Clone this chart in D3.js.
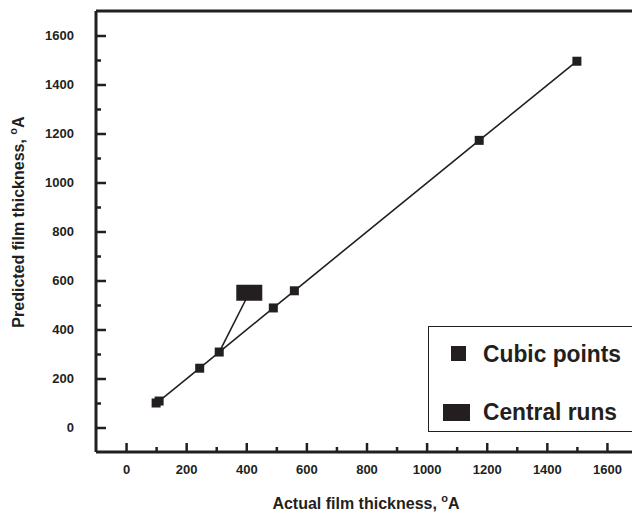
<!DOCTYPE html>
<html>
<head>
<meta charset="utf-8">
<script src="https://cdn.jsdelivr.net/npm/d3@7"></script>
<style>
  body { margin: 0; background: #fff; overflow: hidden; }
  text { font-family: "Liberation Sans", Arial, sans-serif; font-weight: bold; fill: #231f20; }
</style>
</head>
<body>
<svg id="chart"></svg>
<script>
// data (film thickness in Angstrom)
const cubicActual = [100, 110, 245, 310, 490, 560, 1175, 1500];
const cubicPredicted = [100, 108, 242, 308, 488, 558, 1172, 1495];
const centralActual = [410];
const centralPredicted = [550];
// the central run is linked back to this cubic point
const centralLinkIndex = 3;
const majorTicks = [0, 200, 400, 600, 800, 1000, 1200, 1400, 1600];
const minorTicks = [100, 300, 500, 700, 900, 1100, 1300, 1500];
const legendLabels = ["Cubic points", "Central runs"];

const width = 632, height = 513;
const ink = "#231f20";

const svg = d3.select("#chart")
  .attr("width", width)
  .attr("height", height);

const x = d3.scaleLinear().domain([-100, 1700]).range([96, 637]);
const y = d3.scaleLinear().domain([-100, 1700]).range([452, 11]);

const cubic = cubicActual.map((a, i) => ({ a: a, p: cubicPredicted[i] }));
const central = centralActual.map((a, i) => ({ a: a, p: centralPredicted[i] }));

// frame: top line and left / bottom axes
svg.append("line")
  .attr("x1", x(-100)).attr("x2", width + 10)
  .attr("y1", y(1700)).attr("y2", y(1700))
  .attr("stroke", ink).attr("stroke-width", 3);

// x axis (ticks point inward)
const xAxis = svg.append("g")
  .attr("transform", `translate(0,${y(-100)})`)
  .call(d3.axisBottom(x).tickValues(majorTicks).tickSize(-9).tickPadding(13).tickFormat(d3.format("d")));
xAxis.select(".domain").attr("d", `M${x(-100)},0H${width + 10}`).attr("stroke", ink).attr("stroke-width", 3);
xAxis.selectAll(".tick line").attr("stroke", ink).attr("stroke-width", 2.5);
xAxis.selectAll(".tick text").attr("font-size", 13).attr("fill", ink);

svg.append("g")
  .attr("transform", `translate(0,${y(-100)})`)
  .call(d3.axisBottom(x).tickValues(minorTicks).tickSize(-5).tickFormat(""))
  .call(g => g.select(".domain").remove())
  .selectAll(".tick line").attr("stroke", ink).attr("stroke-width", 2.5);

// y axis
const yAxis = svg.append("g")
  .attr("transform", `translate(${x(-100)},0)`)
  .call(d3.axisLeft(y).tickValues(majorTicks).tickSize(-10).tickPadding(22).tickFormat(d3.format("d")));
yAxis.select(".domain").attr("d", `M0,${y(-100)}V${y(1700)}`).attr("stroke", ink).attr("stroke-width", 3);
yAxis.selectAll(".tick line").attr("stroke", ink).attr("stroke-width", 2.5);
yAxis.selectAll(".tick text").attr("font-size", 13).attr("fill", ink);

svg.append("g")
  .attr("transform", `translate(${x(-100)},0)`)
  .call(d3.axisLeft(y).tickValues(minorTicks).tickSize(-5).tickFormat(""))
  .call(g => g.select(".domain").remove())
  .selectAll(".tick line").attr("stroke", ink).attr("stroke-width", 2.5);

// lines
const line = d3.line().x(d => x(d.a)).y(d => y(d.p));
svg.append("path")
  .datum(cubic)
  .attr("d", line)
  .attr("fill", "none")
  .attr("stroke", ink)
  .attr("stroke-width", 1.6);

svg.append("path")
  .datum([central[0], cubic[centralLinkIndex]])
  .attr("d", line)
  .attr("fill", "none")
  .attr("stroke", ink)
  .attr("stroke-width", 1.6);

// markers
svg.selectAll(".cubic")
  .data(cubic)
  .join("rect")
  .attr("class", "cubic")
  .attr("x", d => x(d.a) - 4.5)
  .attr("y", d => y(d.p) - 4.5)
  .attr("width", 9)
  .attr("height", 9)
  .attr("fill", ink);

svg.selectAll(".central")
  .data(central)
  .join("rect")
  .attr("class", "central")
  .attr("x", d => x(d.a) - 13)
  .attr("y", d => y(d.p) - 8)
  .attr("width", 26)
  .attr("height", 16)
  .attr("fill", ink);

// legend (box runs off the right edge, as in the original)
const legend = svg.append("g");
legend.append("rect")
  .attr("x", 428.5).attr("y", 326.5)
  .attr("width", 240).attr("height", 105)
  .attr("fill", "#fff")
  .attr("stroke", ink).attr("stroke-width", 1);

legend.append("rect")
  .attr("x", 451).attr("y", 346).attr("width", 15).attr("height", 15)
  .attr("fill", ink);
legend.append("rect")
  .attr("x", 443).attr("y", 404).attr("width", 27).attr("height", 17)
  .attr("fill", ink);

legend.selectAll(".lab")
  .data(legendLabels)
  .join("text")
  .attr("class", "lab")
  .attr("x", 483)
  .attr("y", (d, i) => i === 0 ? 362 : 420)
  .attr("font-size", 23)
  .attr("textLength", (d, i) => i === 0 ? 138 : 134)
  .attr("lengthAdjust", "spacingAndGlyphs")
  .text(d => d);

// axis titles
const xTitle = svg.append("text")
  .attr("x", 366).attr("y", 509)
  .attr("text-anchor", "middle")
  .attr("font-size", 16)
  .text("Actual film thickness, ");
xTitle.append("tspan").attr("font-size", 11).attr("dy", -7).text("o");
xTitle.append("tspan").attr("dy", 7).text("A");

const yTitle = svg.append("text")
  .attr("transform", "translate(24,222) rotate(-90)")
  .attr("text-anchor", "middle")
  .attr("font-size", 16)
  .text("Predicted film thickness, ");
yTitle.append("tspan").attr("font-size", 11).attr("dy", -7).text("o");
yTitle.append("tspan").attr("dy", 7).text("A");
</script>
</body>
</html>
